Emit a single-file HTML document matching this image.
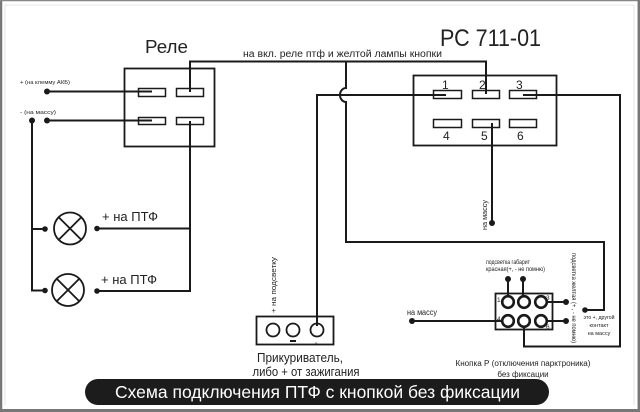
<!DOCTYPE html>
<html>
<head>
<meta charset="utf-8">
<style>
html,body{margin:0;padding:0;background:#fff;}
body{width:640px;height:412px;overflow:hidden;}
svg{display:block;}
text{font-family:"Liberation Sans","DejaVu Sans",sans-serif;fill:#222;}
</style>
</head>
<body>
<svg width="640" height="412" viewBox="0 0 640 412" xmlns="http://www.w3.org/2000/svg">
<!-- frame -->
<rect x="0" y="0" width="640" height="412" fill="#fff"/>
<line x1="1" y1="0" x2="1" y2="412" stroke="#777" stroke-width="2.5"/>
<line x1="0" y1="0.5" x2="640" y2="0.5" stroke="#888" stroke-width="1.5"/>
<line x1="638.8" y1="0" x2="638.8" y2="412" stroke="#777" stroke-width="2.5"/>
<line x1="0" y1="410.5" x2="640" y2="410.5" stroke="#777" stroke-width="3"/>
<line x1="5" y1="5" x2="5" y2="405" stroke="#e6e6e6" stroke-width="1"/>
<line x1="5" y1="5" x2="634" y2="5" stroke="#e6e6e6" stroke-width="1"/>
<line x1="634" y1="5" x2="634" y2="405" stroke="#e6e6e6" stroke-width="1"/>

<g fill="none" stroke="#1a1a1a" stroke-width="2">
<!-- Relay box -->
<rect x="124.5" y="68.5" width="90" height="78" stroke-width="1.8"/>
<rect x="138.5" y="88.5" width="27" height="8" stroke-width="1.5"/>
<rect x="176.5" y="88.5" width="27" height="8" stroke-width="1.5"/>
<rect x="138.5" y="117.5" width="27" height="7" stroke-width="1.5"/>
<rect x="176.5" y="117.5" width="27" height="7" stroke-width="1.5"/>
<!-- wires to relay left pins -->
<line x1="47" y1="91.5" x2="152" y2="91.5"/>
<line x1="47" y1="120.5" x2="152" y2="120.5"/>
<!-- top wire -->
<polyline points="190,92 190,61.5 486,61.5 486,94"/>
<!-- relay bottom right to lamps -->
<polyline points="190,121 190,291 97,291"/>
<line x1="97" y1="228.5" x2="190" y2="228.5"/>
<!-- left ground line -->
<polyline points="32,120 32,290.5 45,290.5"/>
<line x1="32" y1="229" x2="45" y2="229"/>
<!-- lamps -->
<circle cx="70" cy="228.5" r="16" stroke-width="1.8"/>
<line x1="58.7" y1="217.2" x2="81.3" y2="239.8" stroke-width="1.8"/>
<line x1="81.3" y1="217.2" x2="58.7" y2="239.8" stroke-width="1.8"/>
<circle cx="68" cy="290" r="16" stroke-width="1.8"/>
<line x1="56.7" y1="278.7" x2="79.3" y2="301.3" stroke-width="1.8"/>
<line x1="79.3" y1="278.7" x2="56.7" y2="301.3" stroke-width="1.8"/>

<!-- RS 711-01 box -->
<rect x="413.5" y="75.5" width="143" height="70" stroke-width="1.8"/>
<rect x="433.5" y="90.5" width="28" height="8" stroke-width="1.5"/>
<rect x="472.5" y="90.5" width="27" height="8" stroke-width="1.5"/>
<rect x="509.5" y="90.5" width="27" height="8" stroke-width="1.5"/>
<rect x="433.5" y="119.5" width="28" height="8" stroke-width="1.5"/>
<rect x="472.5" y="119.5" width="27" height="8" stroke-width="1.5"/>
<rect x="509.5" y="119.5" width="27" height="8" stroke-width="1.5"/>
<!-- pin1 wire to lighter -->
<polyline points="446,95 317,95 317,326"/>
<!-- pin3 wire to button pin5 -->
<polyline points="523,95 620,95 620,346.5 524,346.5 524,327"/>
<!-- pin5 to ground -->
<line x1="492" y1="123" x2="492" y2="223"/>
<!-- vertical with hop -->
<path d="M346,61.5 L346,88 A6,7 0 0 0 346,102 L346,242 L604,242 L604,310 L585,310"/>

<!-- lighter -->
<rect x="256.5" y="316.5" width="77" height="28" stroke-width="1.8"/>
<circle cx="273" cy="330" r="6.5" stroke-width="1.8"/>
<circle cx="293" cy="330" r="6.5" stroke-width="1.8"/>
<circle cx="317" cy="330" r="6.5" stroke-width="1.8"/>
<line x1="290" y1="341" x2="296" y2="341" stroke-width="2"/>

<!-- button -->
<rect x="495.5" y="293.5" width="57" height="36" stroke-width="1.8"/>
<circle cx="508" cy="302" r="5.8" stroke-width="2.6"/>
<circle cx="524" cy="302" r="5.8" stroke-width="2.6"/>
<circle cx="541" cy="302" r="5.8" stroke-width="2.6"/>
<circle cx="508" cy="321" r="5.8" stroke-width="2.6"/>
<circle cx="524" cy="321" r="5.8" stroke-width="2.6"/>
<circle cx="541" cy="321" r="5.8" stroke-width="2.6"/>
<line x1="508" y1="279" x2="508" y2="296"/>
<line x1="523" y1="279" x2="523" y2="296"/>
<line x1="547" y1="302" x2="566" y2="302"/>
<line x1="547" y1="321" x2="566" y2="321"/>
<line x1="412" y1="321" x2="502" y2="321"/>
</g>

<!-- dots -->
<g fill="#1a1a1a">
<circle cx="47" cy="91.5" r="3"/>
<circle cx="47" cy="120.5" r="3"/>
<circle cx="32" cy="120.5" r="3"/>
<circle cx="45" cy="229" r="2.8"/>
<circle cx="45" cy="290.5" r="2.8"/>
<circle cx="97" cy="228.5" r="2.8"/>
<circle cx="97" cy="291" r="2.8"/>
<circle cx="492" cy="223" r="3"/>
<circle cx="585" cy="310" r="2.8"/>
<circle cx="508" cy="279" r="3"/>
<circle cx="523" cy="279" r="3"/>
<circle cx="566" cy="302" r="3"/>
<circle cx="566" cy="321" r="3"/>
<circle cx="412" cy="321" r="3"/>
</g>

<!-- texts -->
<text x="145" y="53" font-size="18" textLength="43" lengthAdjust="spacingAndGlyphs">Реле</text>
<text x="440" y="46" font-size="24" textLength="101" lengthAdjust="spacingAndGlyphs">РС 711-01</text>
<text x="243" y="57" font-size="10" textLength="199" lengthAdjust="spacingAndGlyphs">на вкл. реле птф и желтой лампы кнопки</text>
<text x="20" y="84" font-size="5.5" fill="#444" textLength="50" lengthAdjust="spacingAndGlyphs">+ (на клемму АКБ)</text>
<text x="20" y="114" font-size="5.5" fill="#444" textLength="36" lengthAdjust="spacingAndGlyphs">- (на массу)</text>
<text x="102" y="221" font-size="13" textLength="56" lengthAdjust="spacingAndGlyphs">+ на ПТФ</text>
<text x="101" y="284" font-size="13" textLength="56" lengthAdjust="spacingAndGlyphs">+ на ПТФ</text>

<g font-size="12">
<text x="442" y="89">1</text>
<text x="479" y="89">2</text>
<text x="516" y="89">3</text>
<text x="443" y="140">4</text>
<text x="481" y="140">5</text>
<text x="517" y="140">6</text>
</g>

<text transform="translate(487,230) rotate(-90)" font-size="7" fill="#333" textLength="30" lengthAdjust="spacingAndGlyphs">на массу</text>
<text transform="translate(276,313) rotate(-90)" font-size="7.5" fill="#333" textLength="56" lengthAdjust="spacingAndGlyphs">+ на подсветку</text>
<text x="314" y="346" font-size="7" fill="#333">+</text>

<text x="300" y="362" font-size="13" text-anchor="middle" textLength="86" lengthAdjust="spacingAndGlyphs">Прикуриватель,</text>
<text x="306" y="376" font-size="13" text-anchor="middle" textLength="107" lengthAdjust="spacingAndGlyphs">либо + от зажигания</text>

<text x="407" y="315" font-size="8" fill="#333" textLength="30" lengthAdjust="spacingAndGlyphs">на массу</text>
<text x="486" y="264" font-size="6" fill="#333" textLength="44" lengthAdjust="spacingAndGlyphs">подсветка габарит</text>
<text x="486" y="271" font-size="6" fill="#333" textLength="59" lengthAdjust="spacingAndGlyphs">красная(+, - не помню)</text>
<text x="497" y="302" font-size="6.5">1</text>
<text x="497" y="321" font-size="6.5">4</text>
<text x="546" y="300" font-size="6.5">3</text>
<text x="546" y="329" font-size="6.5">6</text>
<text transform="translate(572,253) rotate(90)" font-size="6" fill="#333" textLength="90" lengthAdjust="spacingAndGlyphs">подсветка желтая (+ , - не помню)</text>
<text x="599" y="319" font-size="5.5" fill="#333" text-anchor="middle" textLength="31" lengthAdjust="spacingAndGlyphs">это +, другой</text>
<text x="599" y="327" font-size="5.5" fill="#333" text-anchor="middle">контакт</text>
<text x="599" y="335" font-size="5.5" fill="#333" text-anchor="middle">на массу</text>
<text x="523" y="366" font-size="8" fill="#333" text-anchor="middle" textLength="135" lengthAdjust="spacingAndGlyphs">Кнопка Р (отключения парктроника)</text>
<text x="523" y="377" font-size="8" fill="#333" text-anchor="middle">без фиксации</text>

<!-- banner -->
<rect x="85" y="379" width="464" height="26" rx="13" ry="13" fill="#1c1c1c"/>
<text x="115" y="398" font-size="17.5" fill="#fff" style="fill:#fff" textLength="405" lengthAdjust="spacingAndGlyphs">Схема подключения  ПТФ с кнопкой без фиксации</text>
</svg>
</body>
</html>
